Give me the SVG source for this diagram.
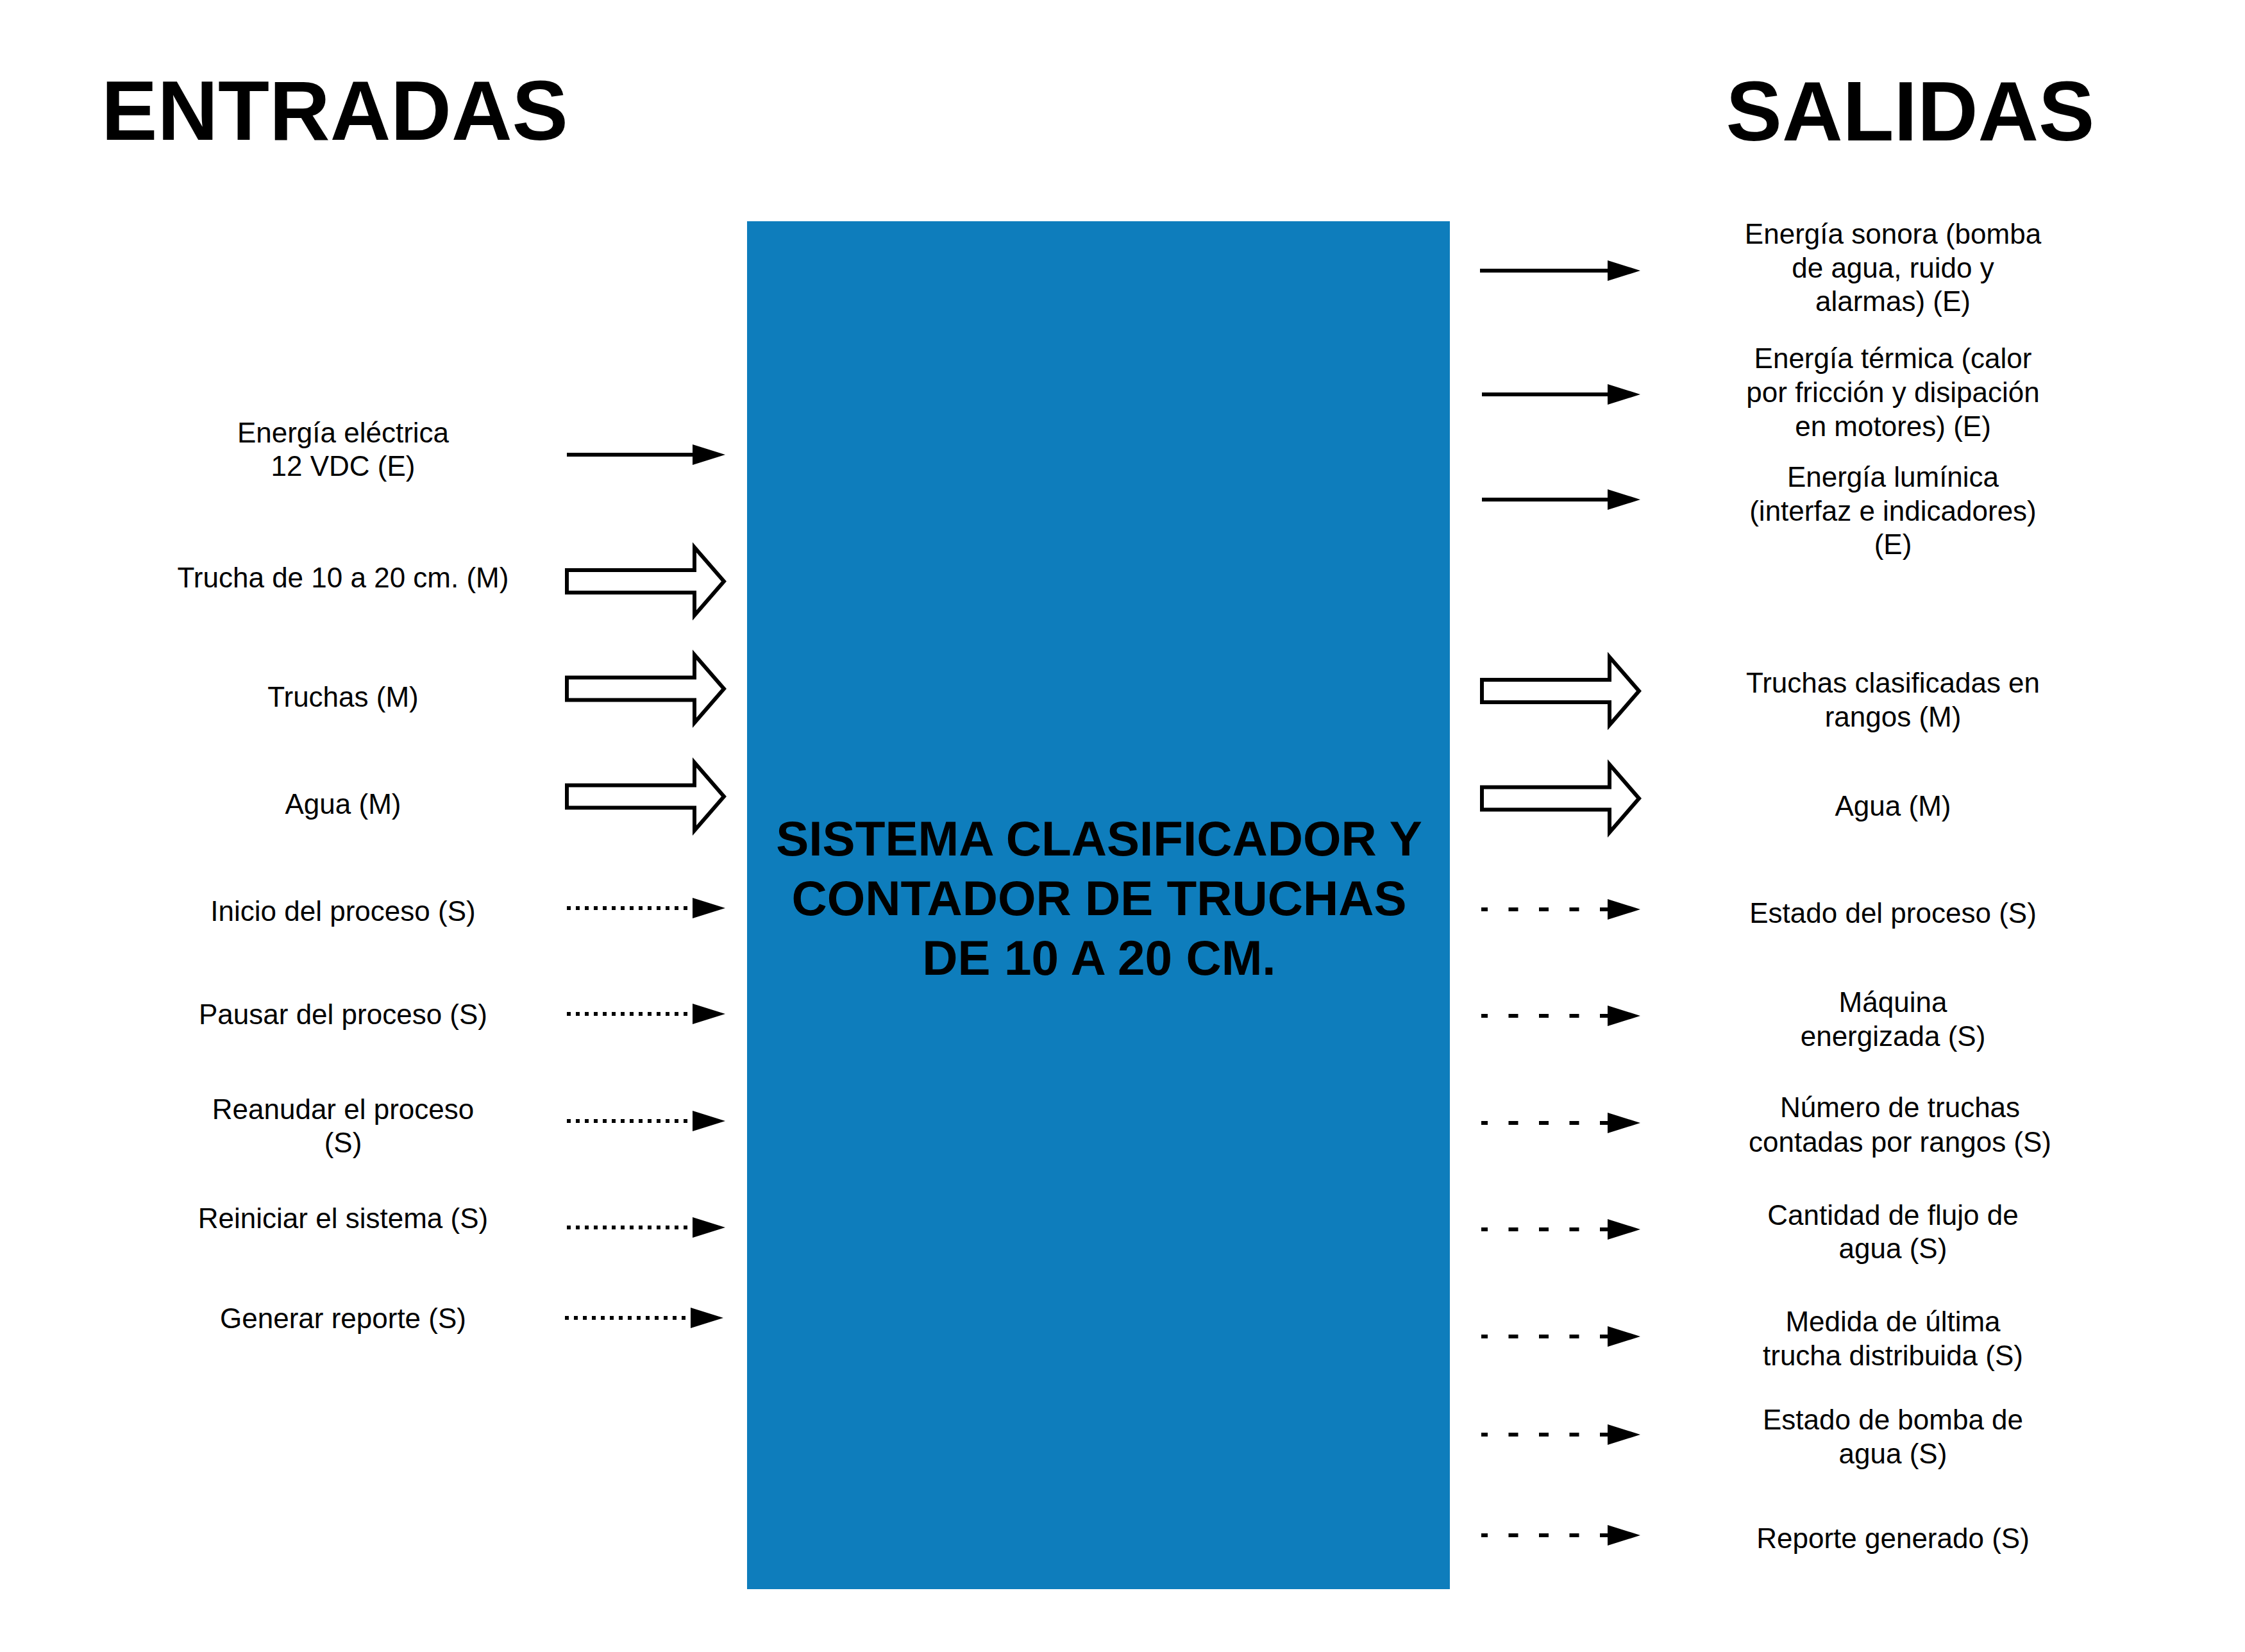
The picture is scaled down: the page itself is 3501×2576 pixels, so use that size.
<svg xmlns="http://www.w3.org/2000/svg" width="3501" height="2576" viewBox="0 0 3501 2576">
<style>
text{font-family:"Liberation Sans",Arial,sans-serif;fill:#000}
.title{font-size:131px;font-weight:bold;text-anchor:middle}
.lbl{font-size:44px;text-anchor:middle}
.sys{font-size:76.5px;font-weight:bold;text-anchor:middle}
.ln{stroke:#000;stroke-width:6;fill:none}
.dot{stroke-dasharray:6 8}
.dash{stroke-dasharray:15 32.5;stroke-dashoffset:5}
.blk{fill:#fff;stroke:#000;stroke-width:6;stroke-linejoin:miter}
</style>
<defs>
<marker id="ah" markerUnits="userSpaceOnUse" markerWidth="52" markerHeight="34" refX="0" refY="16" orient="auto" overflow="visible">
<path d="M0,0 L51,16 L0,32 Z" fill="#000"/>
</marker>
<path id="blkR" d="M0,-17.5 H199 V-53 L245,0 L199,53 V17.5 H0 Z"/>
</defs>
<rect width="3501" height="2576" fill="#fff"/>

<g id="title-entradas"><text class="title" x="522" y="218">ENTRADAS</text></g>
<g id="title-salidas"><text class="title" x="2979" y="219">SALIDAS</text></g>

<g id="sistema">
<rect x="1165" y="345" width="1096" height="2133" fill="#0E7DBC"/>
<text class="sys" x="1714" y="1334">SISTEMA CLASIFICADOR Y</text>
<text class="sys" x="1714" y="1427">CONTADOR DE TRUCHAS</text>
<text class="sys" x="1714" y="1520">DE 10 A 20 CM.</text>
</g>

<g id="in-energia"><text class="lbl" x="535" y="690">Energía eléctrica</text><text class="lbl" x="535" y="742">12 VDC (E)</text></g>
<g id="in-trucha"><text class="lbl" x="535" y="916">Trucha de 10 a 20 cm. (M)</text></g>
<g id="in-truchas"><text class="lbl" x="535" y="1102">Truchas (M)</text></g>
<g id="in-agua"><text class="lbl" x="535" y="1269">Agua (M)</text></g>
<g id="in-inicio"><text class="lbl" x="535" y="1436">Inicio del proceso (S)</text></g>
<g id="in-pausar"><text class="lbl" x="535" y="1597">Pausar del proceso (S)</text></g>
<g id="in-reanudar"><text class="lbl" x="535" y="1745">Reanudar el proceso</text><text class="lbl" x="535" y="1797">(S)</text></g>
<g id="in-reiniciar"><text class="lbl" x="535" y="1915">Reiniciar el sistema (S)</text></g>
<g id="in-generar"><text class="lbl" x="535" y="2071">Generar reporte (S)</text></g>

<g id="out-sonora"><text class="lbl" x="2952" y="380">Energía sonora (bomba</text><text class="lbl" x="2952" y="433">de agua, ruido y</text><text class="lbl" x="2952" y="485">alarmas) (E)</text></g>
<g id="out-termica"><text class="lbl" x="2952" y="574">Energía térmica (calor</text><text class="lbl" x="2952" y="627">por fricción y disipación</text><text class="lbl" x="2952" y="680">en motores) (E)</text></g>
<g id="out-luminica"><text class="lbl" x="2952" y="759">Energía lumínica</text><text class="lbl" x="2952" y="812">(interfaz e indicadores)</text><text class="lbl" x="2952" y="864">(E)</text></g>
<g id="out-clasificadas"><text class="lbl" x="2952" y="1080">Truchas clasificadas en</text><text class="lbl" x="2952" y="1133">rangos (M)</text></g>
<g id="out-agua"><text class="lbl" x="2952" y="1272">Agua (M)</text></g>
<g id="out-estado"><text class="lbl" x="2952" y="1439">Estado del proceso (S)</text></g>
<g id="out-maquina"><text class="lbl" x="2952" y="1578">Máquina</text><text class="lbl" x="2952" y="1631">energizada (S)</text></g>
<g id="out-numero"><text class="lbl" x="2963" y="1742">Número de truchas</text><text class="lbl" x="2963" y="1796">contadas por rangos (S)</text></g>
<g id="out-flujo"><text class="lbl" x="2952" y="1910">Cantidad de flujo de</text><text class="lbl" x="2952" y="1962">agua (S)</text></g>
<g id="out-medida"><text class="lbl" x="2952" y="2076">Medida de última</text><text class="lbl" x="2952" y="2129">trucha distribuida (S)</text></g>
<g id="out-bomba"><text class="lbl" x="2952" y="2229">Estado de bomba de</text><text class="lbl" x="2952" y="2282">agua (S)</text></g>
<g id="out-reporte"><text class="lbl" x="2952" y="2414">Reporte generado (S)</text></g>

<g id="connectors">
<line class="ln" x1="884" y1="709" x2="1080" y2="709" marker-end="url(#ah)"/>
<use href="#blkR" class="blk" x="884" y="906.5"/>
<use href="#blkR" class="blk" x="884" y="1074"/>
<use href="#blkR" class="blk" x="884" y="1242"/>
<line class="ln dot" x1="884" y1="1416" x2="1080" y2="1416" marker-end="url(#ah)"/>
<line class="ln dot" x1="884" y1="1581" x2="1080" y2="1581" marker-end="url(#ah)"/>
<line class="ln dot" x1="884" y1="1748" x2="1080" y2="1748" marker-end="url(#ah)"/>
<line class="ln dot" x1="884" y1="1914" x2="1080" y2="1914" marker-end="url(#ah)"/>
<line class="ln dot" x1="881" y1="2055" x2="1077" y2="2055" marker-end="url(#ah)"/>

<line class="ln" x1="2308" y1="422" x2="2507" y2="422" marker-end="url(#ah)"/>
<line class="ln" x1="2311" y1="615" x2="2507" y2="615" marker-end="url(#ah)"/>
<line class="ln" x1="2311" y1="779" x2="2507" y2="779" marker-end="url(#ah)"/>
<use href="#blkR" class="blk" x="2311" y="1077.5"/>
<use href="#blkR" class="blk" x="2311" y="1245"/>
<line class="ln dash" x1="2310" y1="1418" x2="2507" y2="1418" marker-end="url(#ah)"/>
<line class="ln dash" x1="2310" y1="1584" x2="2507" y2="1584" marker-end="url(#ah)"/>
<line class="ln dash" x1="2310" y1="1751" x2="2507" y2="1751" marker-end="url(#ah)"/>
<line class="ln dash" x1="2310" y1="1917" x2="2507" y2="1917" marker-end="url(#ah)"/>
<line class="ln dash" x1="2310" y1="2084" x2="2507" y2="2084" marker-end="url(#ah)"/>
<line class="ln dash" x1="2310" y1="2237" x2="2507" y2="2237" marker-end="url(#ah)"/>
<line class="ln dash" x1="2310" y1="2394" x2="2507" y2="2394" marker-end="url(#ah)"/>
</g>
</svg>
